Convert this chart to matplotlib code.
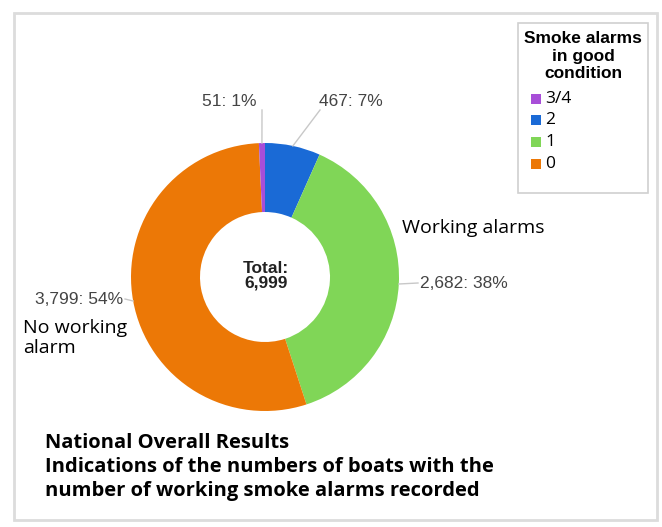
import numpy as np
import matplotlib
matplotlib.use('Agg')
import matplotlib.pyplot as plt
from matplotlib.patches import Rectangle

# data (pie order, clockwise from top)
categories = ['2', '1', '0', '3/4']
counts = [467, 2682, 3799, 51]
colors = ['#1a6ad6', '#80d657', '#ec7806', '#a84ed8']
legend_order = ['3/4', '2', '1', '0']

W, H = 662, 527
fig = plt.figure(figsize=(W / 100, H / 100), dpi=100)
ax = fig.add_axes([0, 0, 1, 1])

def Y(y):
    return H - y

cx, cy, R, hole = 265, 277, 134, 65
total = sum(counts)

wedges, _ = ax.pie(counts, colors=colors, startangle=90, counterclock=False,
                   center=(cx, Y(cy)), radius=R,
                   wedgeprops=dict(width=R - hole, edgecolor='none'))
ax.set_xlim(0, W)
ax.set_ylim(0, H)
ax.set_aspect('auto')
ax.axis('off')

# slice labels: text anchor (px), alignment
label_pos = {'2': (319, 101, 'left'), '1': (420, 283, 'left'),
             '0': (123, 300, 'right'), '3/4': (257, 101, 'right')}
line_end = {'2': (320, 110), '1': (418, 283), '0': (125, 299), '3/4': (262, 110)}
for w, cat, v in zip(wedges, categories, counts):
    ang = np.deg2rad((w.theta1 + w.theta2) / 2)
    x0 = cx + R * np.cos(ang)
    y0 = Y(cy) + R * np.sin(ang)
    ex, ey = line_end[cat]
    ax.plot([x0, ex], [y0, Y(ey)], color='#c8c8c8', lw=1)
    tx, ty, ha = label_pos[cat]
    pct = round(v / total * 100)
    ax.text(tx, Y(ty), f'{v:,}: {pct}%', ha=ha, va='center', fontsize=12.5,
            color='#444444', family='Liberation Sans')

ax.text(cx + 1, Y(276), f'Total:\n{total:,}', ha='center', va='center', fontsize=12.5,
        fontweight='bold', color='#222222', family='Liberation Sans', linespacing=1.0)

ax.text(402, Y(228), 'Working alarms', ha='left', va='center', fontsize=14,
        color='black', family='Open Sans')
ax.text(23, Y(338), 'No working\nalarm', ha='left', va='center', fontsize=14,
        color='black', family='Open Sans', linespacing=1.1)

# legend
ax.add_patch(Rectangle((518, Y(193)), 130, 170, fill=False, edgecolor='#d0d0d0', lw=1.2))
ax.text(583, Y(56), 'Smoke alarms\nin good\ncondition', ha='center', va='center',
        fontsize=12.5, fontweight='bold', family='Liberation Sans', linespacing=1.2)
leg_y = [99, 120, 142, 164]
for lab, ly in zip(legend_order, leg_y):
    c = colors[categories.index(lab)]
    ax.add_patch(Rectangle((531, Y(ly) - 5), 10, 10, facecolor=c, edgecolor='none'))
    ax.text(545, Y(ly), lab, ha='left', va='center', fontsize=12.5, family='Open Sans')

ax.text(45, Y(467), 'National Overall Results\nIndications of the numbers of boats with the\n'
        'number of working smoke alarms recorded', ha='left', va='center',
        fontsize=14.5, fontweight='bold', family='Open Sans', linespacing=1.27)

# outer frame
ax.add_patch(Rectangle((14, Y(520)), 643, 507, fill=False, edgecolor='#dcdcdc', lw=2))

fig.savefig('out.png', dpi=100)
